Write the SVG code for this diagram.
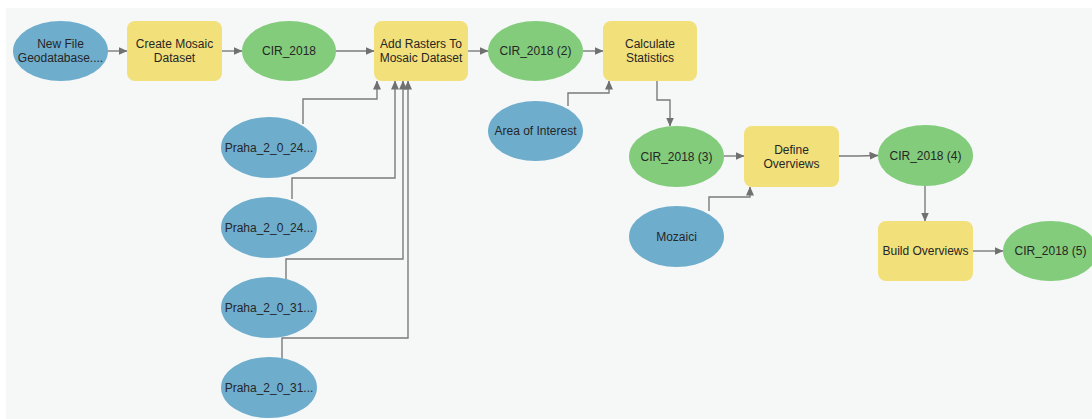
<svg xmlns="http://www.w3.org/2000/svg" width="1092" height="419" viewBox="0 0 1092 419">
<style>
.bg{fill:#f6f7f7}
.data{fill:#6fadcd}
.out{fill:#82cc7c}
.tool{fill:#f2e07b}
text{font-family:"Liberation Sans",Arial,sans-serif;font-size:12px;fill:#262626;text-anchor:middle;dominant-baseline:central}
.c{fill:none;stroke:#7b7b7b;stroke-width:1.4;marker-end:url(#ah)}
</style>
<defs>
<marker id="ah" markerWidth="9" markerHeight="8" refX="8.5" refY="4" orient="auto" markerUnits="userSpaceOnUse">
<path d="M0,0 L9,4 L0,8 Z" fill="#707070"/>
</marker>
</defs>
<rect width="1092" height="419" fill="#ffffff"/>
<rect class="bg" x="6" y="8" width="1086" height="411"/>
<g id="connectors">
<path class="c" d="M108,51 H127"/>
<path class="c" d="M222,51 H242"/>
<path class="c" d="M336,51 H374"/>
<path class="c" d="M468,51 H488"/>
<path class="c" d="M583,51 H603"/>
<path class="c" d="M568,106 V93 H609 V81"/>
<path class="c" d="M657,81 V100 H670 V126"/>
<path class="c" d="M303,124 V99 H377 V81"/>
<path class="c" d="M292,199 V178 H395 V81"/>
<path class="c" d="M286,279 V259 H403 V81"/>
<path class="c" d="M282,359 V338 H408 V81"/>
<path class="c" d="M724,156 H744"/>
<path class="c" d="M709,211 V197 H750 V187"/>
<path class="c" d="M839,156 H858 L878,155.5"/>
<path class="c" d="M925,186 V221"/>
<path class="c" d="M973,251 H1003"/>
</g>
<g id="n_newfile"><ellipse class="data" cx="60.5" cy="51" rx="47.5" ry="30"/><text x="60.5" y="44">New File</text><text x="60.5" y="58">Geodatabase....</text></g>
<g id="n_createmosaic"><rect class="tool" x="127" y="21" width="95" height="60" rx="8"/><text x="174.5" y="44">Create Mosaic</text><text x="174.5" y="58">Dataset</text></g>
<g id="n_cir2018"><ellipse class="out" cx="289" cy="51" rx="47" ry="30"/><text x="289" y="51">CIR_2018</text></g>
<g id="n_addrasters"><rect class="tool" x="374" y="21" width="94" height="60" rx="8"/><text x="421" y="44">Add Rasters To</text><text x="421" y="58">Mosaic Dataset</text></g>
<g id="n_cir2018_2"><ellipse class="out" cx="535.5" cy="51" rx="47.5" ry="30"/><text x="535.5" y="51">CIR_2018 (2)</text></g>
<g id="n_calcstats"><rect class="tool" x="603" y="21" width="94" height="60" rx="8"/><text x="650" y="44">Calculate</text><text x="650" y="58">Statistics</text></g>
<g id="n_aoi"><ellipse class="data" cx="535.5" cy="131" rx="47.5" ry="30"/><text x="535.5" y="131">Area of Interest</text></g>
<g id="n_cir2018_3"><ellipse class="out" cx="676.5" cy="156.5" rx="47.5" ry="30.5"/><text x="676.5" y="156.5">CIR_2018 (3)</text></g>
<g id="n_defineov"><rect class="tool" x="744" y="126" width="95" height="61" rx="8"/><text x="791.5" y="150">Define</text><text x="791.5" y="164">Overviews</text></g>
<g id="n_cir2018_4"><ellipse class="out" cx="925.5" cy="155.5" rx="47.5" ry="30.5"/><text x="925.5" y="155.5">CIR_2018 (4)</text></g>
<g id="n_mozaici"><ellipse class="data" cx="676.5" cy="236.5" rx="47.5" ry="30.5"/><text x="676.5" y="236.5">Mozaici</text></g>
<g id="n_buildov"><rect class="tool" x="878" y="221" width="95" height="60" rx="8"/><text x="925.5" y="251">Build Overviews</text></g>
<g id="n_cir2018_5"><ellipse class="out" cx="1050.5" cy="251" rx="47.5" ry="30"/><text x="1050.5" y="251">CIR_2018 (5)</text></g>
<g id="n_praha1"><ellipse class="data" cx="269" cy="147.5" rx="48" ry="30.5"/><text x="269" y="147.5">Praha_2_0_24...</text></g>
<g id="n_praha2"><ellipse class="data" cx="269" cy="227.5" rx="48" ry="30.5"/><text x="269" y="227.5">Praha_2_0_24...</text></g>
<g id="n_praha3"><ellipse class="data" cx="269" cy="307.5" rx="48" ry="30.5"/><text x="269" y="307.5">Praha_2_0_31...</text></g>
<g id="n_praha4"><ellipse class="data" cx="269" cy="387.5" rx="48" ry="30.5"/><text x="269" y="387.5">Praha_2_0_31...</text></g>
</svg>
